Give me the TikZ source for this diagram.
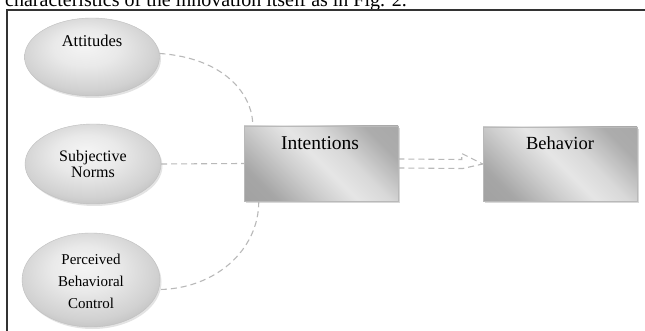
\documentclass[tikz,border=0pt]{standalone}
\usepackage{fontspec}
\setmainfont{Liberation Serif}
\usetikzlibrary{shapes.geometric,shadows}
\pgfdeclarehorizontalshading{boxshade}{100bp}{color(0bp)=(gray!78); color(25bp)=(gray!70); color(40bp)=(gray!38); color(50bp)=(gray!20); color(60bp)=(gray!30); color(75bp)=(gray!65); color(100bp)=(gray!72)}
\pgfdeclareradialshading{ellshade}{\pgfpoint{-3bp}{8bp}}{color(0bp)=(gray!8); color(12bp)=(gray!17); color(25bp)=(gray!36); color(33bp)=(gray!55); color(50bp)=(gray!60)}
\tikzset{
  ell/.style={ellipse, draw=gray!50, line width=0.4pt, shading=ellshade, inner sep=0pt,
    drop shadow={opacity=0.22, shadow xshift=1.5pt, shadow yshift=-2pt}},
  boxn/.style={rectangle, draw=gray!55, line width=0.5pt, shading=boxshade, shading angle=45,
    minimum width=154pt, minimum height=75pt, inner sep=0pt,
    drop shadow={opacity=0.3, shadow xshift=2pt, shadow yshift=-2pt}},
  conn/.style={draw=gray!55, dash pattern=on 6pt off 4pt, line width=1.1pt},
  lbl/.style={text=black, align=center, inner sep=0pt},
  frameline/.style={draw=black!80, line width=1.5pt}
}
\begin{document}
\begin{tikzpicture}[x=1pt, y=-1pt]
\useasboundingbox (0,0) rectangle (645,331);
\fill[white] (0,0) rectangle (645,331);
% caption cut off at top, as in the reference
\node[anchor=base west, font=\fontsize{20}{24}\selectfont, inner sep=0pt] (cap) at (5,6.5) {characteristics of the innovation itself as in Fig. 2.};
% frame
\draw[frameline] (646,10) -- (7,10) -- (7,332);
% ellipses
\node[ell, minimum width=135pt, minimum height=78pt] (att) at (92,57) {};
\node[lbl, font=\fontsize{16.5}{18}\selectfont] (attt) at (92,41) {Attitudes};
\node[ell, minimum width=136pt, minimum height=80pt] (sub) at (93,164) {};
\node[lbl, font=\fontsize{16}{16.5}\selectfont] (subt) at (93,164) {Subjective\\Norms};
\node[ell, minimum width=138pt, minimum height=94pt] (pbc) at (91,280) {};
\node[lbl, font=\fontsize{15}{22}\selectfont] (pbct) at (91,281) {Perceived\\Behavioral\\Control};
% boxes
\node[boxn] (int) at (321,163.5) {};
\node[lbl, font=\fontsize{19.5}{22}\selectfont] (intt) at (320,143) {Intentions};
\node[boxn, minimum height=74pt] (beh) at (560,164) {};
\node[lbl, font=\fontsize{18.5}{22}\selectfont] (beht) at (560,143) {Behavior};
% connectors
\draw[conn] (att.3) .. controls (225,58) and (253,95) .. ([xshift=9pt]int.north west);
\draw[conn] (sub.east) -- (int.west);
\draw[conn] ([xshift=15pt]int.south west) .. controls (259,250) and (215,289) .. (pbc.-8);
% double dashed arrow
\draw[conn] ([yshift=4.5pt]int.east) -- ([shift={(-21pt,4.5pt)}]beh.west) -- ([shift={(-21pt,10.5pt)}]beh.west) -- (beh.west);
\draw[conn] ([yshift=-4.5pt]int.east) -- ([shift={(-20pt,-4.5pt)}]beh.west) -- (beh.west);
\end{tikzpicture}
\end{document}
